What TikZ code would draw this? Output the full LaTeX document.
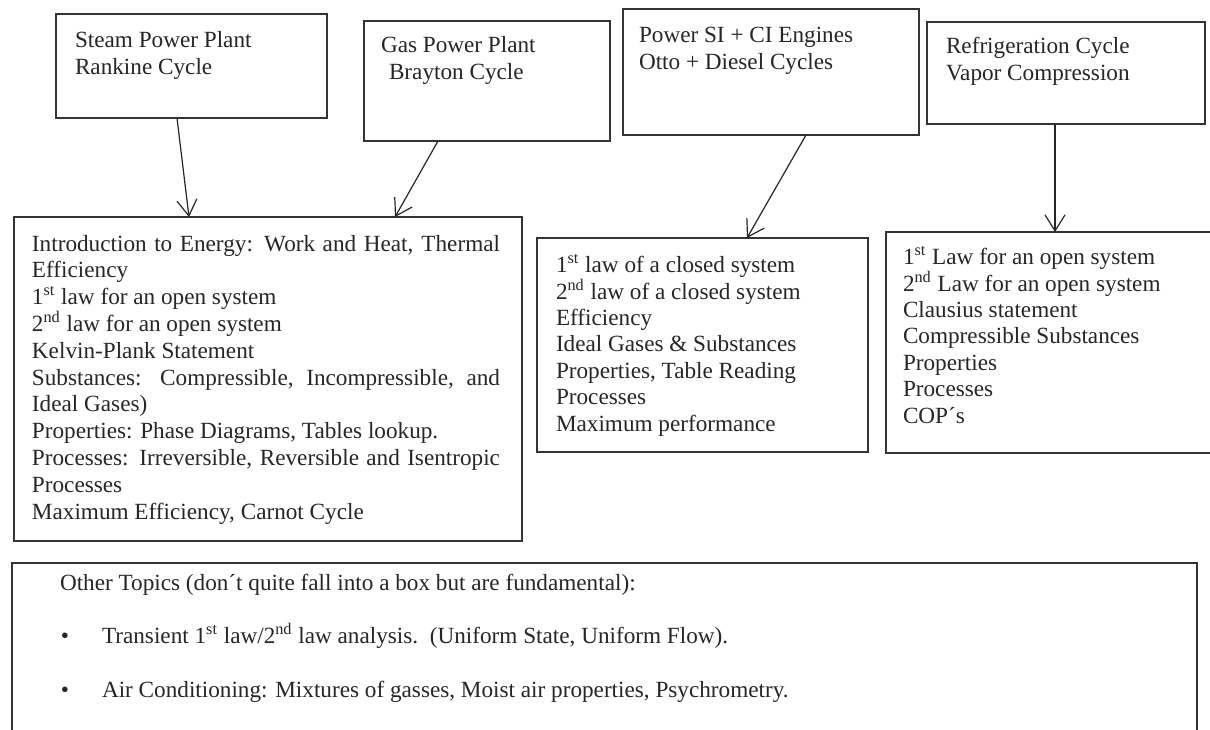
\documentclass[tikz,border=0pt]{standalone}
\usepackage{fontspec}
\setmainfont{Liberation Serif}
\usetikzlibrary{arrows.meta,fit}
\begin{document}
\begin{tikzpicture}[x=0.5pt,y=-0.5pt,
  box/.style={draw=black!80,line width=1pt,inner sep=0pt,outer sep=0pt},
  arr/.style={draw=black!85,line width=0.6pt,-{Straight Barb[length=8pt,width=10pt]}},
  txt/.style={anchor=base west,inner sep=0pt,outer sep=0pt,align=left,text=black!85,font=\fontsize{11.6}{13.4}\selectfont},
  txttop/.style={txt,font=\fontsize{11.6}{13.5}\selectfont},
  txtmid/.style={txt,font=\fontsize{11.6}{13.2}\selectfont}]
\useasboundingbox (0,0) rectangle (1210,729);
\clip (0,0) rectangle (1210,729);
\fill[white] (0,0) rectangle (1210,729);

% top boxes
\node[box,fit={(56,14)(327,118)}] (steam) {};
\node[box,fit={(364,21)(610,141)}] (gas) {};
\node[box,fit={(623,9)(919,135)}] (power) {};
\node[box,fit={(927,22)(1205,124)}] (refrig) {};

% multi-line texts are placed by the baseline of their last line
\node[txttop] (steamt) at (75,74) {Steam Power Plant\\Rankine Cycle};
\node[txttop] (gast) at (381,79) {Gas Power Plant\\\hspace*{4pt}Brayton Cycle};
\node[txttop] (powert) at (639,69) {Power SI + CI Engines\\Otto + Diesel Cycles};
\node[txttop] (refrigt) at (946,80) {Refrigeration Cycle\\Vapor Compression};

% lower boxes
\node[box,fit={(14,217)(522,541)}] (intro) {};
\node[box,fit={(537,238)(868,452)}] (closed) {};
\node[box,fit={(886,232)(1216,453)}] (open) {};
\node[box,fit={(12,563)(1197,760)}] (other) {};

\node[txt] (introt) at (32,519) {%
\makebox[234pt][s]{Introduction to Energy: Work and Heat, Thermal}\\
Efficiency\\
1\textsuperscript{st} law for an open system\\
2\textsuperscript{nd} law for an open system\\
Kelvin-Plank Statement\\
\makebox[234pt][s]{Substances: Compressible, Incompressible, and}\\
Ideal Gases)\\
Properties: Phase Diagrams, Tables lookup.\\
\makebox[234pt][s]{Processes: Irreversible, Reversible and Isentropic}\\
Processes\\
Maximum Efficiency, Carnot Cycle};

\node[txtmid] (closedt) at (556,431) {%
1\textsuperscript{st} law of a closed system\\
2\textsuperscript{nd} law of a closed system\\
Efficiency\\
Ideal Gases \& Substances\\
Properties, Table Reading\\
Processes\\
Maximum performance};

\node[txtmid] (opent) at (903,423) {%
1\textsuperscript{st} Law for an open system\\
2\textsuperscript{nd} Law for an open system\\
Clausius statement\\
Compressible Substances\\
Properties\\
Processes\\
COP´s};

% bottom box text
\node[txt] (othert) at (60,590) {Other Topics (don´t quite fall into a box but are fundamental):};
\node[txt,anchor=base] (b1) at (65,643) {•};
\node[txt] (l1) at (102,643) {Transient 1\textsuperscript{st} law/2\textsuperscript{nd} law analysis.\ \ (Uniform State, Uniform Flow).};
\node[txt,anchor=base] (b2) at (65,697) {•};
\node[txt] (l2) at (102,697) {Air Conditioning: Mixtures of gasses, Moist air properties, Psychrometry.};

% arrows
\draw[arr] ([xshift=60.5pt]steam.south west) -- ([xshift=87.5pt]intro.north west);
\draw[arr] ([xshift=37pt]gas.south west) -- ([xshift=190.5pt]intro.north west);
\draw[arr] ([xshift=91.5pt]power.south west) -- ([xshift=105pt]closed.north west);
\draw[arr] ([xshift=64pt]refrig.south west) -- ([xshift=84.5pt]open.north west);
\end{tikzpicture}
\end{document}
